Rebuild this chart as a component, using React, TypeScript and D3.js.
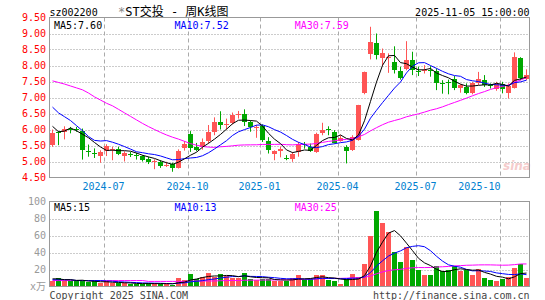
import React from 'react';
import * as d3 from 'd3';

// ---- data (weekly K) ----
const opens = [5.51,5.92,5.92,6.01,6.03,5.96,5.34,5.28,5.17,5.32,5.35,5.40,5.16,5.23,5.21,5.16,5.09,4.98,5.00,4.86,4.91,4.80,5.41,5.85,5.46,5.44,5.64,5.93,6.22,6.15,6.19,6.46,6.50,6.22,6.06,6.12,5.64,5.23,5.32,5.10,5.09,5.30,5.56,5.45,5.30,5.90,6.03,5.92,5.65,5.46,5.35,5.67,7.13,8.35,8.69,8.22,8.24,8.10,7.83,7.90,8.17,7.84,7.84,7.85,7.83,7.46,7.49,7.59,7.30,7.33,7.15,7.46,7.56,7.38,7.25,7.41,7.13,7.30,8.25,7.57];
const highs = [6.00,5.95,6.10,6.08,6.08,6.03,5.53,5.41,5.35,5.54,5.46,5.46,5.32,5.30,5.27,5.20,5.15,5.07,5.04,4.99,4.96,5.38,5.64,5.95,5.58,5.72,6.14,6.38,6.57,6.34,6.53,6.58,6.63,6.28,6.14,6.16,5.76,5.35,5.46,5.20,5.30,5.61,5.61,5.56,5.90,6.21,6.10,5.98,5.82,5.51,5.82,6.77,7.81,9.21,9.00,8.53,8.38,8.60,7.96,8.76,8.43,7.96,8.01,7.98,7.91,7.54,7.56,7.67,7.42,7.44,7.49,7.80,7.70,7.44,7.49,7.49,7.44,8.41,8.26,7.88];
const lows = [5.46,5.51,5.69,5.88,5.93,5.06,5.15,5.11,4.96,5.17,5.04,5.20,5.00,5.14,5.06,5.00,4.92,4.76,4.80,4.83,4.68,4.78,5.34,5.30,5.32,5.37,5.56,5.82,6.00,6.00,6.16,6.34,6.11,5.93,5.74,5.61,5.25,5.04,5.13,5.04,4.99,5.15,5.40,5.30,5.27,5.82,5.82,5.56,5.62,4.94,5.33,5.65,7.10,8.19,8.19,7.98,7.77,7.75,7.56,7.85,7.70,7.67,7.75,7.65,7.23,7.12,7.10,7.23,7.15,7.10,7.10,7.39,7.33,7.28,7.21,7.13,6.97,7.28,7.54,7.54];
const closes = [5.90,5.88,6.01,5.99,6.02,5.36,5.33,5.27,5.29,5.48,5.40,5.25,5.27,5.21,5.19,5.06,4.99,5.03,4.85,4.88,4.81,5.32,5.56,5.41,5.35,5.60,5.92,6.22,6.14,6.17,6.44,6.48,6.24,6.07,6.08,5.67,5.35,5.32,5.38,5.09,5.25,5.54,5.54,5.32,5.87,6.00,5.98,5.58,5.72,5.32,5.77,6.76,7.80,8.74,8.34,8.38,8.26,7.85,7.62,8.17,7.85,7.83,7.86,7.83,7.46,7.45,7.48,7.31,7.39,7.15,7.46,7.59,7.39,7.37,7.41,7.28,7.35,8.27,7.60,7.70];
const volumes = [6,10,7,7,6,7,5,6,4,6,4,4,4,3,3,3,4,4,3,3,2,10,8,15,9,11,16,11,15,12,10,10,16,9,8,9,9,6,7,7,10,13,8,9,13,14,8,6,3,9,15,11,26,60,89,75,64,41,29,46,31,19,14,13,24,18,20,24,18,20,14,21,10,8,7,9,11,22,27,10];

// moving-average values before enough weeks exist in the window
const ma5Head = [6.10, 5.93, 5.95, 6.05];
const ma10Head = [6.70, 6.52, 6.40, 6.28, 6.12, 5.96, 5.78, 5.66, 5.64];
const ma30Head = [7.52,7.47,7.42,7.36,7.30,7.24,7.14,7.02,6.92,6.82,6.74,6.63,6.52,6.41,6.30,6.19,6.09,6.00,5.91,5.83,5.76,5.70,5.63,5.56,5.51,5.47,5.45,5.44,5.46];
const vma5Head = [9, 9, 8, 8];
const vma10Head = [8, 8, 8, 8, 7, 7, 7, 7, 7];
const vma30Head = [7,7,7,7,7,7,7,7,7,7,7,7,7,7,7,7,6,6,6,6,6,6,6,6.5,6.5,6.5,6.5,6.5,6.8];

const priceTicks = [5.0, 5.5, 6.0, 6.5, 7.0, 7.5, 8.0, 8.5, 9.0];
const priceLabels = [4.5, 5.0, 5.5, 6.0, 6.5, 7.0, 7.5, 8.0, 8.5, 9.0, 9.5];
const volTicks = [20, 40, 60, 80];
const volLabels = [20, 40, 60, 80, 100];
const monthLabels = ['2024-07', '2024-10', '2025-01', '2025-04', '2025-07', '2025-10'];
const monthIndex = [9, 23, 35, 48, 61, 75];
const maPriceText = ['MA5:7.60', 'MA10:7.52', 'MA30:7.59'];
const maVolText = ['MA5:15', 'MA10:13', 'MA30:25'];

function movingAvg(arr: number[], n: number, head: number[]): number[] {
  return arr.map((_, i) => (i < n - 1 ? head[i] : d3.mean(arr.slice(i - n + 1, i + 1)) as number));
}

const MONO = "'DejaVu Sans Mono', 'Liberation Mono', monospace";
const RED = '#ff5555';
const GREEN = '#00a800';

export default function App() {
  const N = closes.length;
  const L = 49.5, R = 529.5;
  const x = d3.scaleBand<number>().domain(d3.range(N)).range([50, 530]).paddingInner(0).paddingOuter(0);
  const yP = d3.scaleLinear().domain([4.5, 9.5]).range([177.5, 17.5]);
  const yV = d3.scaleLinear().domain([0, 100]).range([286.5, 201.5]);
  const cx = (i: number) => (x(i) as number) + 2.5;

  const ma5 = movingAvg(closes, 5, ma5Head);
  const ma10 = movingAvg(closes, 10, ma10Head);
  const ma30 = movingAvg(closes, 30, ma30Head);
  const vma5 = movingAvg(volumes, 5, vma5Head);
  const vma10 = movingAvg(volumes, 10, vma10Head);
  const vma30 = movingAvg(volumes, 30, vma30Head);

  const lineP = d3.line<number>().x((_, i) => cx(i)).y((d) => yP(d));
  const lineV = d3.line<number>().x((_, i) => cx(i)).y((d) => yV(d));

  const maColors = ['#000000', '#0000ff', '#ff00ff'];
  const maX = [54, 174.5, 294.7];

  return (
    <svg width={545} height={300} style={{ position: 'absolute', left: 0, top: 0, background: '#fff' }} fontFamily={MONO}>
      <rect x={0} y={0} width={545} height={300} fill="#fff" />
      {/* header */}
      <text x={49.5} y={16} fontSize={10} fill="#000">sz002200</text>
      <text x={118} y={16} fontSize={12} fill="#000" fontFamily="'DejaVu Sans Mono', 'Noto Sans CJK SC', monospace">
        <tspan fill="#888">*</tspan>ST交投 - 周K线图
      </text>
      <text x={529.5} y={16} fontSize={10} fill="#000" textAnchor="end">2025-11-05 15:00:00</text>

      {/* price panel grid */}
      {priceTicks.map((t) => (
        <line key={'pg' + t} x1={L} x2={R} y1={Math.round(yP(t)) + 0.5} y2={Math.round(yP(t)) + 0.5} stroke="#999" strokeDasharray="1,2" />
      ))}
      {monthIndex.map((m) => (
        <line key={'pv' + m} x1={(x(m) as number) + 0.5} x2={(x(m) as number) + 0.5} y1={17.5} y2={177.5} stroke="#aaa" strokeDasharray="4,3" />
      ))}
      {priceLabels.map((t) => (
        <text key={'pl' + t} x={46} y={yP(t)} fontSize={10} fill="#ff0000" textAnchor="end" dominantBaseline="central">
          {t.toFixed(2)}
        </text>
      ))}
      <text x={503} y={170} fontSize={12} fontStyle="italic" fontWeight="bold" fill="#f5cccc" fontFamily="'DejaVu Sans', sans-serif">sina</text>

      {/* candles */}
      {closes.map((c, i) => {
        const o = opens[i];
        const up = c >= o;
        const col = up ? RED : GREEN;
        const top = Math.round(yP(Math.max(o, c)));
        const bot = Math.round(yP(Math.min(o, c)));
        return (
          <g key={'k' + i}>
            <line x1={cx(i)} x2={cx(i)} y1={yP(highs[i])} y2={yP(lows[i])} stroke={col} strokeWidth={1} />
            <rect x={x(i)} y={top} width={5} height={Math.max(1, bot - top)} fill={col} />
          </g>
        );
      })}
      {[ma30, ma10, ma5].map((m, k) => (
        <path key={'mp' + k} d={lineP(m) as string} fill="none" stroke={maColors[2 - k]} strokeWidth={1} />
      ))}
      {maPriceText.map((t, k) => (
        <text key={'mt' + k} x={maX[k]} y={25} fontSize={10} fill={maColors[k]} dominantBaseline="central">{t}</text>
      ))}
      <rect x={L} y={17.5} width={R - L} height={160} fill="none" stroke="#999" />

      {/* x labels */}
      {monthIndex.map((m, k) => {
        const gx = (x(m) as number) + 0.5;
        const end = gx + 30 > R;
        return (
          <text key={'xl' + k} x={end ? gx : gx - 1} y={190} fontSize={10} fill="#0080d0" textAnchor={end ? 'end' : 'middle'}>
            {monthLabels[k]}
          </text>
        );
      })}

      {/* volume panel */}
      {volTicks.map((t) => (
        <line key={'vg' + t} x1={L} x2={R} y1={Math.round(yV(t)) + 0.5} y2={Math.round(yV(t)) + 0.5} stroke="#999" strokeDasharray="1,2" />
      ))}
      {monthIndex.map((m) => (
        <line key={'vv' + m} x1={(x(m) as number) + 0.5} x2={(x(m) as number) + 0.5} y1={201.5} y2={286.5} stroke="#aaa" strokeDasharray="4,3" />
      ))}
      {volLabels.map((t) => (
        <text key={'vl' + t} x={46} y={yV(t)} fontSize={10} fill="#999" textAnchor="end" dominantBaseline="central">{t}</text>
      ))}
      <text x={46} y={yV(0)} fontSize={10} fill="#999" textAnchor="end" dominantBaseline="central" fontFamily="'DejaVu Sans Mono', 'Noto Sans CJK SC', monospace">x万</text>
      {volumes.map((v, i) => {
        const up = closes[i] >= opens[i];
        const top = Math.round(yV(v));
        return <rect key={'vb' + i} x={x(i)} y={top} width={5} height={286 - top} fill={up ? RED : GREEN} />;
      })}
      {[vma30, vma10, vma5].map((m, k) => (
        <path key={'mv' + k} d={lineV(m) as string} fill="none" stroke={maColors[2 - k]} strokeWidth={1} />
      ))}
      {maVolText.map((t, k) => (
        <text key={'vt' + k} x={maX[k]} y={207} fontSize={10} fill={maColors[k]} dominantBaseline="central">{t}</text>
      ))}
      <rect x={L} y={201.5} width={R - L} height={85} fill="none" stroke="#999" />

      {/* footer */}
      <text x={49.5} y={299} fontSize={10} fill="#444">Copyright 2025 SINA.COM</text>
      <text x={529.5} y={299} fontSize={10} fill="#444" textAnchor="end">http://finance.sina.com.cn</text>
    </svg>
  );
}
